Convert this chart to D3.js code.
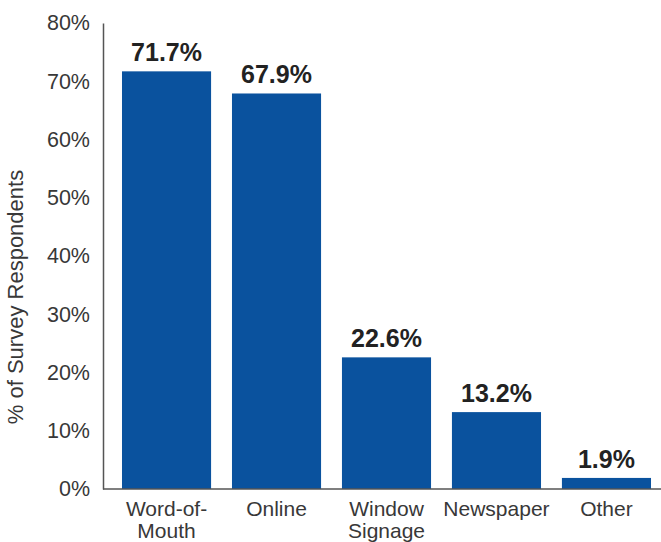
<!DOCTYPE html>
<html><head><meta charset="utf-8">
<script src="https://cdn.jsdelivr.net/npm/d3@7"></script>
<style>body{margin:0;background:#fff}svg{display:block}</style>
</head><body>
<script>
const categories = [["Word-of-","Mouth"],["Online"],["Window","Signage"],["Newspaper"],["Other"]];
const values = [71.7, 67.9, 22.6, 13.2, 1.9];
const yTicks = [0,10,20,30,40,50,60,70,80];
const valueLabels = ["71.7%","67.9%","22.6%","13.2%","1.9%"];

const W = 661, H = 542;
const font = "'Liberation Sans', Arial, sans-serif";
const svg = d3.select("body").append("svg").attr("width", W).attr("height", H);

const x0 = 103, yBottom = 489, yTop = 23;
const y = d3.scaleLinear().domain([0,80]).range([yBottom, yTop]);
const keys = categories.map((c,i)=>i);
const x = d3.scaleBand().domain(keys).range([x0, 670]).paddingInner(0.19).paddingOuter(0.1727);

// bars
svg.selectAll("rect.bar").data(values).join("rect")
  .attr("class","bar")
  .attr("x",(d,i)=>x(i)).attr("width",x.bandwidth())
  .attr("y",d=>y(d)).attr("height",d=>yBottom-y(d))
  .attr("fill","#0a529e");

// y axis
const yAxis = d3.axisLeft(y).tickValues(yTicks).tickFormat(d=>d+"%").tickSize(0).tickPadding(13);
const gy = svg.append("g").attr("transform",`translate(${x0},0)`).call(yAxis);
gy.select(".domain").attr("stroke","#555").attr("stroke-width",1.5);
gy.selectAll("text").attr("font-family",font).attr("font-size",21.5).attr("fill","#383838");

// x axis line
svg.append("line").attr("x1",x0).attr("x2",W).attr("y1",yBottom).attr("y2",yBottom)
  .attr("stroke","#555").attr("stroke-width",1.5);

// x labels
const xl = svg.selectAll("text.xl").data(categories).join("text")
  .attr("class","xl")
  .attr("x",(d,i)=>x(i)+x.bandwidth()/2)
  .attr("y",516)
  .attr("text-anchor","middle")
  .attr("font-family",font).attr("font-size",21).attr("fill","#383838");
xl.each(function(d){
  const t = d3.select(this);
  d.forEach((line,j)=>t.append("tspan").attr("x",t.attr("x")).attr("dy",j?22:0).text(line));
});

// value labels
svg.selectAll("text.vl").data(values).join("text")
  .attr("class","vl")
  .attr("x",(d,i)=>x(i)+x.bandwidth()/2)
  .attr("y",d=>y(d)-10)
  .attr("text-anchor","middle")
  .attr("font-family",font).attr("font-size",25).attr("font-weight","bold").attr("fill","#222")
  .text((d,i)=>valueLabels[i]);

// y title
svg.append("text")
  .attr("transform","translate(23,297) rotate(-90)")
  .attr("text-anchor","middle")
  .attr("font-family",font).attr("font-size",22).attr("fill","#383838")
  .text("% of Survey Respondents");
</script>
</body></html>
